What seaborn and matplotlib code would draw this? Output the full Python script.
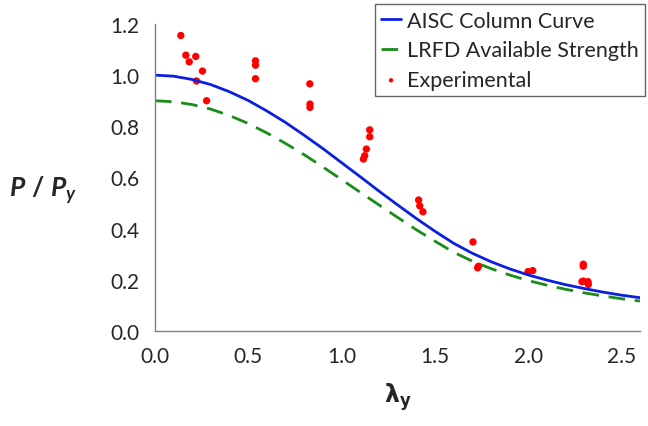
import matplotlib
matplotlib.use("Agg")
import matplotlib.pyplot as plt
import pandas as pd
import seaborn as sns

# slenderness values used for the design curves
lam = [0.0, 0.1, 0.2, 0.3, 0.4, 0.5, 0.6, 0.7, 0.8, 0.9, 1.0, 1.1, 1.2, 1.3,
       1.4, 1.5, 1.6, 1.7, 1.8, 1.9, 2.0, 2.1, 2.2, 2.3, 2.4, 2.5, 2.6]
aisc = [1.000, 0.996, 0.983, 0.963, 0.935, 0.901, 0.860, 0.815, 0.765, 0.713,
        0.658, 0.603, 0.547, 0.493, 0.440, 0.390, 0.343, 0.304, 0.271, 0.243,
        0.219, 0.199, 0.181, 0.166, 0.152, 0.140, 0.130]
lrfd = [0.900, 0.896, 0.885, 0.867, 0.842, 0.811, 0.774, 0.733, 0.689, 0.641,
        0.592, 0.542, 0.493, 0.444, 0.396, 0.351, 0.308, 0.273, 0.244, 0.219,
        0.197, 0.179, 0.163, 0.149, 0.137, 0.126, 0.117]

# experimental test results
exp_lam = [0.139, 0.166, 0.184, 0.219, 0.255, 0.223, 0.277,
           0.539, 0.539, 0.539, 0.830, 0.831, 0.831,
           1.151, 1.151, 1.133, 1.124, 1.117,
           1.413, 1.419, 1.436,
           1.704, 1.729, 1.734,
           1.999, 2.024,
           2.295, 2.295, 2.288, 2.295, 2.320, 2.322]
exp_p = [1.155, 1.078, 1.052, 1.073, 1.016, 0.977, 0.900,
         1.056, 1.039, 0.986, 0.966, 0.887, 0.874,
         0.786, 0.759, 0.711, 0.685, 0.672,
         0.512, 0.489, 0.466,
         0.348, 0.247, 0.253,
         0.232, 0.236,
         0.261, 0.253, 0.193, 0.195, 0.193, 0.182]

curves = pd.DataFrame({"lam": lam, "aisc": aisc, "lrfd": lrfd})
tests = pd.DataFrame({"lam": exp_lam, "p": exp_p})

sns.set_style("white")
plt.rcParams["font.family"] = ["Lato", "DejaVu Sans"]
plt.rcParams["mathtext.fontset"] = "custom"
plt.rcParams["mathtext.rm"] = "Lato:bold"
plt.rcParams["mathtext.it"] = "Lato:bold:italic"
plt.rcParams["mathtext.bf"] = "DejaVu Sans:bold"

fig = plt.figure(figsize=(6.48, 4.27), dpi=100)
ax = fig.add_axes([0.239, 0.2225, 0.749, 0.719])

sns.lineplot(data=curves, x="lam", y="aisc", color="#0a1fe0", lw=2,
             label="AISC Column Curve", ax=ax)
sns.lineplot(data=curves, x="lam", y="lrfd", color="#1a8c1a", lw=2,
             dashes=False, label="LRFD Available Strength", ax=ax)
ax.lines[-1].set_dashes([6, 3.5])
sns.scatterplot(data=tests, x="lam", y="p", color="#ff0000", s=28,
                edgecolor="none", label="Experimental", ax=ax)

ax.set_xlim(0, 2.6)
ax.set_ylim(0, 1.2)
ax.set_xticks([0.0, 0.5, 1.0, 1.5, 2.0, 2.5])
ax.set_yticks([0.0, 0.2, 0.4, 0.6, 0.8, 1.0, 1.2])
ax.xaxis.set_major_formatter(matplotlib.ticker.FormatStrFormatter("%.1f"))
ax.yaxis.set_major_formatter(matplotlib.ticker.FormatStrFormatter("%.1f"))

for side in ["top", "right"]:
    ax.spines[side].set_visible(False)
for side in ["left", "bottom"]:
    ax.spines[side].set_color("#808080")
    ax.spines[side].set_linewidth(1)
ax.tick_params(axis="both", direction="out", length=5, width=1,
               color="#808080", labelsize=15, pad=6)

ax.set_xlabel(r"$\mathbf{\lambda_y}$", fontsize=17, labelpad=10)
ax.set_ylabel(r"$P\ /\ P_y$", fontsize=19, rotation=0, va="center")
ax.yaxis.set_label_coords(-0.231, 0.46)

leg = ax.legend(loc="upper right", bbox_to_anchor=(0.996, 0.988),
                bbox_transform=fig.transFigure, fontsize=15.5, frameon=True,
                fancybox=False, handlelength=0.9, handletextpad=0.3,
                borderpad=0.3, labelspacing=0.45, markerscale=0.6,
                borderaxespad=0)
leg.get_frame().set_edgecolor("#404040")
leg.get_frame().set_linewidth(1)

fig.savefig("out.png", dpi=100)
plt.close(fig)
